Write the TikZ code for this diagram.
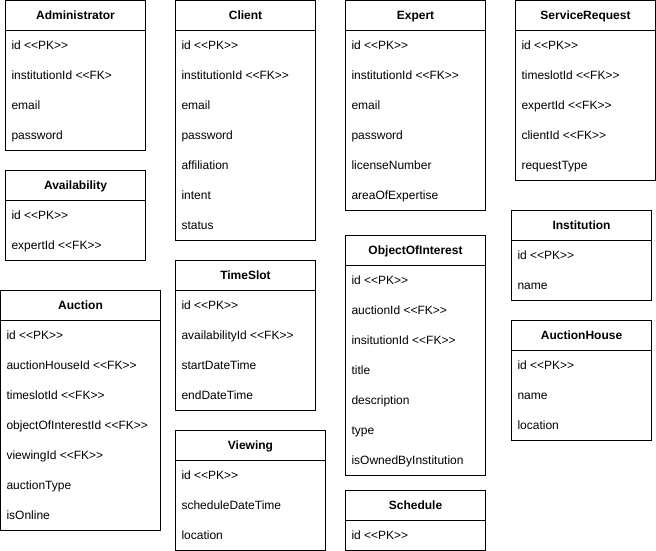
\documentclass[tikz,border=0pt]{standalone}
\usepackage{fontspec}
\setmainfont{Liberation Sans}[Ligatures=TeXOff]
\usetikzlibrary{calc}
\tikzset{
  hdr/.style={draw=black, line width=1bp, font=\fontsize{12bp}{14bp}\selectfont\bfseries,
    minimum height=30bp, inner sep=0pt, outer sep=0pt, text height=8.6bp, text depth=0pt, anchor=north west},
  rowtxt/.style={font=\fontsize{12bp}{14bp}\selectfont, inner sep=0pt, outer sep=0pt,
    text height=8.6bp, text depth=0pt, anchor=west},
  frame/.style={draw=black, line width=1bp}
}
% #1 name, #2 x, #3 y, #4 width, #5 number of rows, #6 title, #7 rows
\newcommand{\entity}[7]{%
  \node[hdr, minimum width=#4bp] (#1) at (#2,#3) {#6};
  \foreach \rowtext [count=\i] in {#7} {
    \node[rowtxt] (#1-\i) at ($(#1.south west)+(6,15+30*\i-30)$) {\rowtext};
  }
  \draw[frame] (#1.south west) rectangle ($(#1.south east)+(0,30*#5)$);
}
\begin{document}
\begin{tikzpicture}[x=1bp,y=-1bp]
\useasboundingbox (-0.5,-0.5) rectangle (655.5,550.5);
\entity{adm}{5}{0}{140}{4}{Administrator}{id <<PK>>,institutionId <<FK>,email,password}
\entity{avail}{5}{170}{140}{2}{Availability}{id <<PK>>,expertId <<FK>>}
\entity{auction}{0}{290}{160}{7}{Auction}{id <<PK>>,auctionHouseId <<FK>>,timeslotId <<FK>>,objectOfInterestId <<FK>>,viewingId <<FK>>,auctionType,isOnline}
\entity{client}{175}{0}{140}{7}{Client}{id <<PK>>,institutionId <<FK>>,email,password,affiliation,intent,status}
\entity{timeslot}{175}{260}{140}{4}{TimeSlot}{id <<PK>>,availabilityId <<FK>>,startDateTime,endDateTime}
\entity{viewing}{175}{430}{150}{3}{Viewing}{id <<PK>>,scheduleDateTime,location}
\entity{expert}{345}{0}{140}{6}{Expert}{id <<PK>>,institutionId <<FK>>,email,password,licenseNumber,areaOfExpertise}
\entity{ooi}{345}{235}{140}{7}{ObjectOfInterest}{id <<PK>>,auctionId <<FK>>,insitutionId <<FK>>,title,description,type,isOwnedByInstitution}
\entity{schedule}{345}{490}{140}{1}{Schedule}{id <<PK>>}
\entity{sreq}{515}{0}{140}{5}{ServiceRequest}{id <<PK>>,timeslotId <<FK>>,expertId <<FK>>,clientId <<FK>>,requestType}
\entity{inst}{511}{210}{140}{2}{Institution}{id <<PK>>,name}
\entity{ahouse}{511}{320}{140}{3}{AuctionHouse}{id <<PK>>,name,location}
\end{tikzpicture}
\end{document}
